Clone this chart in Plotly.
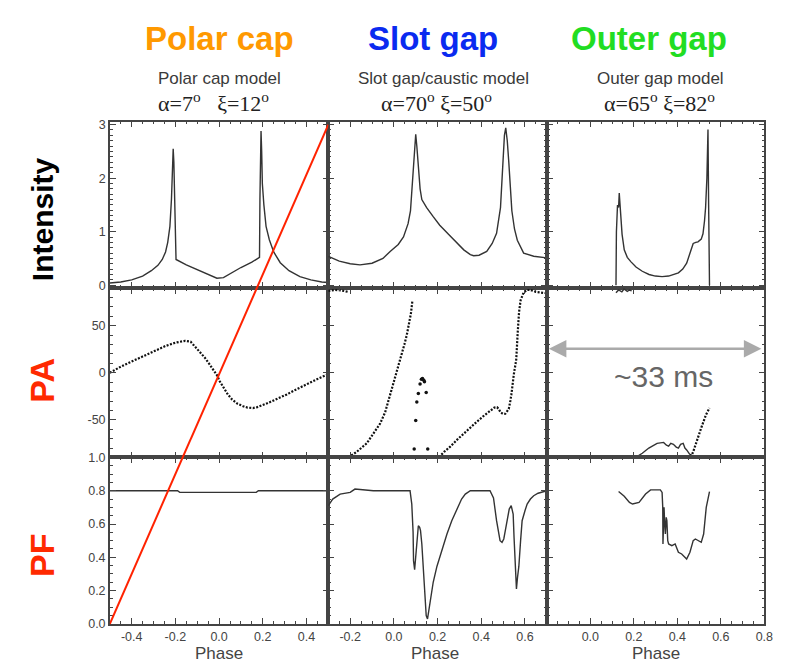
import plotly.graph_objects as go

# ---------------- data ----------------
# Polar cap model: intensity
pc_int_phase = [-0.50, -0.45, -0.40, -0.35, -0.31, -0.28, -0.26, -0.245, -0.235, -0.225, -0.218, -0.213,
                -0.210, -0.207, -0.204, -0.200, -0.197, -0.15, -0.10, -0.05, -0.01, 0.02, 0.06, 0.10,
                0.15, 0.185, 0.187, 0.190, 0.192, 0.195, 0.198, 0.205, 0.215, 0.23, 0.25, 0.28, 0.32,
                0.37, 0.42, 0.47, 0.50]
pc_int = [0.04, 0.06, 0.10, 0.17, 0.27, 0.37, 0.48, 0.62, 0.80, 1.10, 1.60, 2.20,
          2.55, 2.30, 1.50, 0.55, 0.48, 0.38, 0.29, 0.20, 0.13, 0.14, 0.24, 0.33,
          0.43, 0.52, 1.60, 2.60, 2.88, 2.50, 1.90, 1.50, 1.10, 0.85, 0.62, 0.42, 0.27,
          0.16, 0.10, 0.06, 0.05]

# Slot gap model: intensity
sg_int_phase = [-0.30, -0.25, -0.20, -0.155, -0.10, -0.05, -0.017, 0.02, 0.044, 0.065, 0.076, 0.085,
                0.09, 0.096, 0.10, 0.105, 0.113, 0.12, 0.128, 0.15, 0.18, 0.21, 0.25, 0.287, 0.32,
                0.35, 0.365, 0.39, 0.425, 0.45, 0.47, 0.488, 0.50, 0.506, 0.512, 0.519, 0.526,
                0.54, 0.552, 0.565, 0.594, 0.64, 0.70]
sg_int = [0.54, 0.45, 0.40, 0.38, 0.41, 0.50, 0.63, 0.76, 0.90, 1.15, 1.39, 1.9,
          2.3, 2.7, 2.82, 2.6, 2.12, 1.8, 1.6, 1.45, 1.28, 1.12, 0.95, 0.79, 0.66,
          0.57, 0.55, 0.56, 0.63, 0.78, 0.97, 1.45, 2.43, 2.8, 2.94, 2.7, 2.3,
          1.39, 1.05, 0.84, 0.60, 0.54, 0.51]

# Outer gap model: intensity
og_int_phase = [0.118, 0.120, 0.125, 0.130, 0.133, 0.137, 0.141, 0.146, 0.156, 0.17, 0.186, 0.21,
                0.239, 0.27, 0.299, 0.33, 0.36, 0.385, 0.405, 0.425, 0.443, 0.46, 0.473, 0.485,
                0.495, 0.51, 0.518, 0.525, 0.53, 0.536, 0.541, 0.544, 0.548]
og_int = [0.0, 1.0, 1.5, 1.45, 1.72, 1.5, 1.33, 0.95, 0.66, 0.52, 0.44, 0.34,
          0.26, 0.20, 0.17, 0.16, 0.17, 0.20, 0.23, 0.30, 0.41, 0.62, 0.78, 0.80,
          0.81, 0.86, 0.96, 1.2, 1.45, 2.0, 2.91, 1.5, 0.0]

# Polar cap: position angle
pc_pa_phase = [-0.50, -0.45, -0.395, -0.34, -0.29, -0.245, -0.20, -0.155, -0.13, -0.11, -0.09,
               -0.065, -0.045, -0.027, -0.01, 0.003, 0.02, 0.04, 0.06, 0.085, 0.11, 0.13, 0.155,
               0.175, 0.22, 0.265, 0.31, 0.355, 0.40, 0.43, 0.46, 0.49, 0.50]
pc_pa = [0.0, 6.5, 12.5, 18.5, 24, 28.5, 32, 34, 33, 28, 22,
         16, 9.5, 3.5, -2.5, -9, -16, -23, -28.5, -33, -35.5, -37, -37.5,
         -36.5, -32.5, -28, -23, -17.5, -12, -9, -5.5, -2.5, -1.5]

# Slot gap: position angle (None separates branches)
sg_pa_phase = [-0.30, -0.27, -0.24, -0.21, None,
               -0.208, -0.17, -0.124, -0.09, -0.063, -0.04, -0.025, -0.01, 0.006, 0.02, 0.036,
               0.048, 0.059, 0.07, 0.078, 0.085, None,
               0.159, 0.205, 0.23, 0.258, 0.29, 0.319, 0.35, 0.38, 0.41, 0.441, 0.46, 0.472,
               0.48, 0.488, 0.50, 0.51, 0.52, 0.526, 0.533, 0.538, 0.549, 0.56, 0.567, 0.573,
               0.58, 0.587, 0.594, 0.61, 0.625, 0.65, 0.686, 0.70]
sg_pa = [87, 88, 87.5, 86, None,
         -90, -84, -75, -64, -54, -42, -30, -17, -5, 6, 19,
         30, 40, 52, 63, 77, None,
         -90, -90, -84, -78.5, -71, -64.6, -58, -52, -46, -40, -37, -36.6,
         -38.5, -42, -43.8, -43.6, -41, -38.4, -30, -22.7, -1.7, 14, 43.6, 64.6,
         77, 82, 85.5, 88, 88, 86, 85, 84.5]
sg_pa_dot_phase = [0.093, 0.100, 0.105, 0.112, 0.120, 0.126, 0.131, 0.137, 0.140, 0.148, 0.155]
sg_pa_dot = [-81, -50.6, -31, -22, -12, -7, -6, -8, -9.5, -21, -81]

# Outer gap: position angle
og_pa_phase = [0.118, 0.13, 0.145, 0.155, 0.17, 0.18, 0.19, None,
               0.209, 0.239, 0.269, 0.29, 0.307, 0.337, 0.35, 0.36, 0.37, 0.382, 0.395, 0.405,
               0.415, 0.427, 0.435, 0.443, 0.458]
og_pa = [85, 88, 86, 89, 86.5, 88, 87, None,
         -90, -85.5, -80, -77, -75, -74, -77, -78, -75, -76, -79, -80,
         -76, -75, -80, -82, -87]
og_pa2_phase = [0.458, 0.465, 0.473, 0.488, 0.51, 0.532, 0.548]
og_pa2 = [-87, -88, -84, -73, -58.5, -44.5, -37.5]

# Polarisation fraction
pc_pf_phase = [-0.50, -0.19, -0.18, 0.17, 0.18, 0.50]
pc_pf = [0.80, 0.80, 0.79, 0.79, 0.80, 0.80]

sg_pf_phase = [-0.30, -0.28, -0.246, -0.20, -0.178, -0.094, 0.074, 0.082, 0.088, 0.09, 0.095, 0.10,
               0.106, 0.112, 0.118, 0.122, 0.128, 0.135, 0.142, 0.148, 0.154, 0.160, 0.166, 0.18,
               0.197, 0.22, 0.243, 0.265, 0.288, 0.31, 0.327, 0.35, 0.44, 0.456, 0.47, 0.486,
               0.495, 0.503, 0.51, 0.518, 0.528, 0.537, 0.546, 0.550, 0.554, 0.561, 0.566, 0.572,
               0.58, 0.587, 0.60, 0.61, 0.625, 0.64, 0.66, 0.686, 0.70]
sg_pf = [0.71, 0.75, 0.78, 0.79, 0.81, 0.80, 0.80, 0.72, 0.55, 0.38, 0.325, 0.42,
         0.52, 0.59, 0.58, 0.56, 0.48, 0.325, 0.18, 0.05, 0.03, 0.08, 0.15, 0.25,
         0.345, 0.45, 0.54, 0.62, 0.69, 0.75, 0.78, 0.80, 0.80, 0.757, 0.62, 0.50,
         0.49, 0.51, 0.56, 0.62, 0.69, 0.71, 0.66, 0.52, 0.365, 0.21, 0.28, 0.345,
         0.50, 0.62, 0.68, 0.72, 0.75, 0.77, 0.785, 0.795, 0.80]

og_pf_phase = [0.13, 0.156, 0.18, 0.194, 0.224, 0.254, 0.277, 0.322, 0.330, 0.333, 0.334, 0.336,
               0.339, 0.342, 0.345, 0.349, 0.352, 0.356, 0.36, 0.375, 0.39, 0.405, 0.42, 0.443,
               0.458, 0.473, 0.483, 0.51, 0.521, 0.533, 0.548]
og_pf = [0.795, 0.767, 0.73, 0.72, 0.73, 0.78, 0.805, 0.805, 0.79, 0.70, 0.48, 0.62,
         0.70, 0.60, 0.54, 0.64, 0.62, 0.50, 0.48, 0.47, 0.48, 0.43, 0.42, 0.39,
         0.43, 0.50, 0.51, 0.49, 0.54, 0.70, 0.795]

# ---------------- labels / axes ----------------
col_titles = ["Polar cap", "Slot gap", "Outer gap"]
col_title_colors = ["#FF9900", "#0A2AF0", "#22DD22"]
model_names = ["Polar cap model", "Slot gap/caustic model", "Outer gap model"]
model_params = ["α=7<sup>o</sup>\u00a0\u00a0\u00a0ξ=12<sup>o</sup>",
                "α=70<sup>o</sup> ξ=50<sup>o</sup>",
                "α=65<sup>o</sup> ξ=82<sup>o</sup>"]
row_labels = ["Intensity", "PA", "PF"]
row_label_colors = ["#000000", "#FF2A00", "#FF2A00"]

x_ranges = [[-0.5, 0.5], [-0.3, 0.7], [-0.2, 0.8]]
x_tickvals = [[-0.4, -0.2, 0.0, 0.2, 0.4], [-0.2, 0.0, 0.2, 0.4, 0.6], [0.0, 0.2, 0.4, 0.6, 0.8]]
x_ticktext = [["-0.4", "-0.2", "0.0", "0.2", "0.4"], ["-0.2", "0.0", "0.2", "0.4", "0.6"],
              ["0.0", "0.2", "0.4", "0.6", "0.8"]]
y_ranges = [[-0.055, 3.055], [-90, 90], [0, 1]]
y_tickvals = [[0, 1, 2, 3], [-50, 0, 50], [0.0, 0.2, 0.4, 0.6, 0.8, 1.0]]
y_ticktext = [["0", "1", "2", "3"], ["-50", "0", "50"], ["0.0", "0.2", "0.4", "0.6", "0.8", "1.0"]]
y_minor = [0.1, 10, 0.05]
x_minor = 0.05

# ---------------- layout geometry (pixels) ----------------
W, H = 793, 663
COL_PX = [(103, 324), (324, 545), (545, 765)]
ROW_PX = [(109, 279), (279, 452), (452, 622)]


def px(x):
    return x / W


def py(y):
    return 1 - y / H


def names(r, c):
    i = r * 3 + c + 1
    s = "" if i == 1 else str(i)
    return "x" + s, "y" + s


LINE = "#333333"
AXC = "#444444"
fig = go.Figure()

curves = [
    [(pc_int_phase, pc_int, "solid", "lines")],
    [(sg_int_phase, sg_int, "solid", "lines")],
    [(og_int_phase, og_int, "solid", "lines")],
    [(pc_pa_phase, pc_pa, "2px,1.5px", "lines")],
    [(sg_pa_phase, sg_pa, "2px,1.5px", "lines"), (sg_pa_dot_phase, sg_pa_dot, None, "markers")],
    [(og_pa_phase, og_pa, "solid", "lines"), (og_pa2_phase, og_pa2, "2px,1.5px", "lines")],
    [(pc_pf_phase, pc_pf, "solid", "lines")],
    [(sg_pf_phase, sg_pf, "solid", "lines")],
    [(og_pf_phase, og_pf, "solid", "lines")],
]

layout_axes = {}
for r in range(3):
    for c in range(3):
        xa, ya = names(r, c)
        for xs, ys, dash, mode in curves[r * 3 + c]:
            if mode == "lines":
                fig.add_trace(go.Scatter(x=xs, y=ys, mode="lines", xaxis=xa, yaxis=ya,
                                         line=dict(color=LINE if dash == "solid" else "#111111",
                                                   width=1.4 if dash == "solid" else 2.2, dash=dash),
                                         showlegend=False, hoverinfo="skip"))
            else:
                fig.add_trace(go.Scatter(x=xs, y=ys, mode="markers", xaxis=xa, yaxis=ya,
                                         marker=dict(color="#111111", size=3.5),
                                         showlegend=False, hoverinfo="skip"))
        x0, x1 = COL_PX[c]
        y0, y1 = ROW_PX[r]
        common = dict(showgrid=False, zeroline=False, showline=True, linecolor=AXC, linewidth=1.5,
                      mirror="allticks", ticks="inside", ticklen=6, tickwidth=1.1, tickcolor=AXC,
                      tickfont=dict(family="Liberation Sans", size=12.5, color="#444444"))
        layout_axes["xaxis" + xa[1:]] = dict(
            common, domain=[px(x0), px(x1)], anchor=ya, range=x_ranges[c],
            tickmode="array", tickvals=x_tickvals[c], ticktext=x_ticktext[c],
            showticklabels=(r == 2),
            minor=dict(tick0=0, dtick=x_minor, ticks="inside", ticklen=3, tickwidth=1, tickcolor=AXC))
        layout_axes["yaxis" + ya[1:]] = dict(
            common, domain=[py(y1), py(y0)], anchor=xa, range=y_ranges[r],
            tickmode="array", tickvals=y_tickvals[r], ticktext=y_ticktext[r],
            showticklabels=(c == 0),
            minor=dict(tick0=0, dtick=y_minor[r], ticks="inside", ticklen=3, tickwidth=1, tickcolor=AXC))

ann = []
title_x = [214, 430, 648]
name_x = [214, 441, 660]
param_x = [208, 433, 659]
phase_x = [213, 432, 655]
for c in range(3):
    ann.append(dict(x=px(title_x[c]), y=py(24), text=col_titles[c], showarrow=False,
                    font=dict(family="Liberation Sans", size=33, color=col_title_colors[c], weight="bold")))
    ann.append(dict(x=px(name_x[c]), y=py(65), text=model_names[c], showarrow=False,
                    font=dict(family="Liberation Sans", size=17, color="#3a3a3a")))
    ann.append(dict(x=px(param_x[c]), y=py(89), text=model_params[c], showarrow=False,
                    font=dict(family="Liberation Serif", size=22, color="#222222")))
    ann.append(dict(x=px(phase_x[c]), y=py(652), text="Phase", showarrow=False,
                    font=dict(family="Liberation Sans", size=17, color="#444444")))

row_y = [209, 373, 552]
row_size = [30, 34, 34]
for r in range(3):
    ann.append(dict(x=px(35), y=py(row_y[r]), text=row_labels[r], showarrow=False, textangle=-90,
                    font=dict(family="Liberation Sans", size=row_size[r], color=row_label_colors[r],
                              weight="bold")))

# timescale arrow and label
ann.append(dict(x=px(762), y=py(341), ax=-(762 - 548), ay=0, text="", showarrow=True,
                arrowside="end+start", arrowhead=2, arrowsize=1.4, arrowwidth=2.5,
                arrowcolor="#AAAAAA", standoff=0, startstandoff=0))
ann.append(dict(x=px(663), y=py(369), text="~33 ms", showarrow=False,
                font=dict(family="Liberation Sans", size=30, color="#666666")))

for a in ann:
    a.setdefault("xref", "paper")
    a.setdefault("yref", "paper")
    a.setdefault("xanchor", "center")
    a.setdefault("yanchor", "middle")

# red diagonal: from PF=0 at phase -0.5 (bottom row) to intensity=3 at phase 0.5 (top row)
r1d0, r1d1 = py(ROW_PX[0][1]), py(ROW_PX[0][0])
y_top = r1d0 + (3 - y_ranges[0][0]) / (y_ranges[0][1] - y_ranges[0][0]) * (r1d1 - r1d0)
y_bot = py(ROW_PX[2][1])
shapes = [dict(type="line", xref="x7", yref="paper", x0=x_ranges[0][0], x1=x_ranges[0][1],
               y0=y_bot, y1=y_top, line=dict(color="#FF2200", width=2), layer="above")]

fig.update_layout(width=W, height=H, margin=dict(l=0, r=0, t=0, b=0),
                  paper_bgcolor="white", plot_bgcolor="white",
                  annotations=ann, shapes=shapes, **layout_axes)
fig.write_html("out.html")
